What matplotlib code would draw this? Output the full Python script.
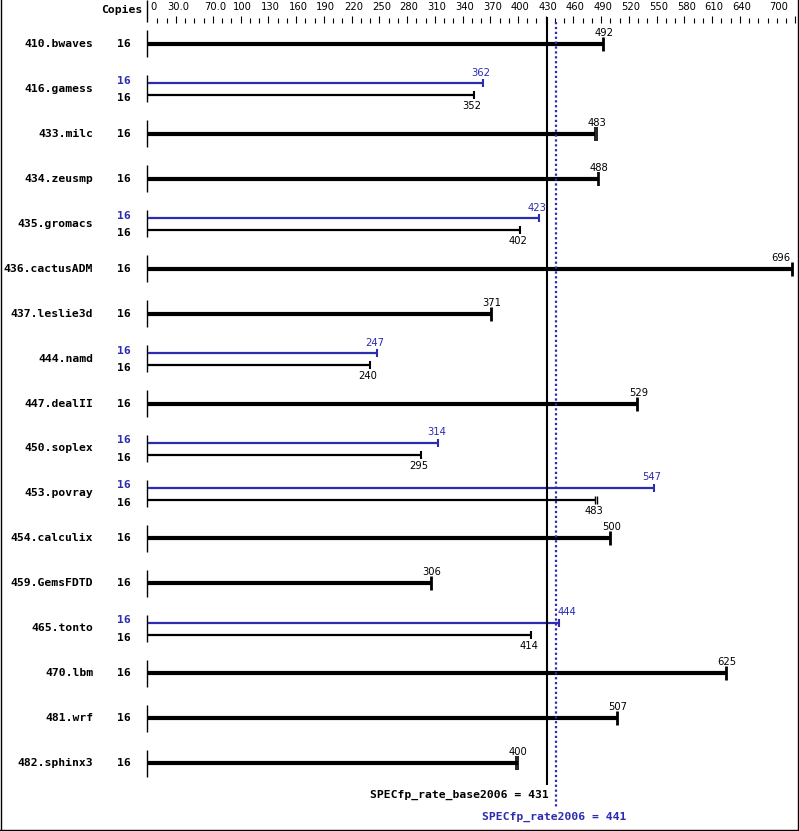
import matplotlib
matplotlib.use("Agg")
import matplotlib.pyplot as plt
from matplotlib.lines import Line2D

benchmarks = ["410.bwaves", "416.gamess", "433.milc", "434.zeusmp", "435.gromacs",
              "436.cactusADM", "437.leslie3d", "444.namd", "447.dealII", "450.soplex",
              "453.povray", "454.calculix", "459.GemsFDTD", "465.tonto", "470.lbm",
              "481.wrf", "482.sphinx3"]
copies = [16] * 17
base = [492, 352, 483, 488, 402, 696, 371, 240, 529, 295, 483, 500, 306, 414, 625, 507, 400]
peak = [None, 362, None, None, 423, None, None, 247, None, 314, 547, None, None, 444, None, None, None]
base_other = [None, None, 485, 486, None, None, None, None, None, None, 485, None, None, None, None, None, 398]

tick_labels = ["0", "30.0", "70.0"] + [str(v) for v in range(100, 641, 30)] + ["700"]
tick_vals = [0, 30, 70] + list(range(100, 641, 30)) + [700]

base_score = 431
peak_score = 441

BLUE = "#2c2cb0"
W, H = 799, 831
X0, SX = 148.2, 0.9245      # pixel of value 0, px per unit
Y0, SY = 44.0, 44.94        # pixel of first row centre, px per row

fig = plt.figure(figsize=(W / 100, H / 100), dpi=100)
ax = fig.add_axes([0, 0, 1, 1])
ax.set_xlim(-X0 / SX, (W - X0) / SX)
ax.set_ylim((H - Y0) / SY, -Y0 / SY)
ax.axis("off")

def px(d):  # vertical pixel offset -> data rows
    return d / SY

def ypix(p):  # absolute pixel y -> data rows
    return (p - Y0) / SY

def hx(d):  # horizontal pixel offset -> data units
    return d / SX

mono = dict(family="DejaVu Sans Mono", fontweight="bold", fontsize=8.2)
small = dict(family="DejaVu Sans", fontsize=7.2)
XMAX_LABEL = (790 - X0) / SX

def value_label(x, y, text, bar_end=None, **kw):
    half = hx(9)
    if x + half > XMAX_LABEL:
        ax.text(XMAX_LABEL, y, text, ha="right", va="center", **kw, **small)
    elif bar_end is not None and abs(bar_end - peak_score) < hx(6):
        ax.text(bar_end - hx(1), y, text, ha="left", va="center", **kw, **small)
    else:
        ax.text(x, y, text, ha="center", va="center", **kw, **small)

# header
ax.text(hx(-6), ypix(10), "Copies", ha="right", va="center", **mono)
ax.plot([hx(-1), hx(-1)], [ypix(0), ypix(22)], color="black", lw=1, solid_capstyle="butt")
for v in range(10, 701, 10):
    major = v in tick_vals
    ax.plot([v, v], [ypix(16 if major else 18.5), ypix(23)], color="black", lw=0.8,
            solid_capstyle="butt")
for v, lab in zip(tick_vals, tick_labels):
    if v == 0:
        ax.text(hx(2), ypix(7), lab, ha="left", va="center", **small)
    elif v == 700:
        ax.text(v - hx(7), ypix(7), lab, ha="right", va="center", **small)
    else:
        ax.text(v + hx(2), ypix(7), lab, ha="center", va="center", **small)

def end_tick(x, y, half, lw, color):
    ax.plot([x, x], [y - px(half), y + px(half)], color=color, lw=lw, solid_capstyle="butt")

for i, name in enumerate(benchmarks):
    y = i
    ax.plot([hx(-1), hx(-1)], [y - px(13.5), y + px(13.5)], color="black", lw=1,
            solid_capstyle="butt")
    ax.text(hx(-55), y, name, ha="right", va="center", **mono)
    if peak[i] is None:
        ax.text(hx(-24), y, str(copies[i]), ha="center", va="center", **mono)
        ax.plot([0, base[i]], [y, y], color="black", lw=3.0, solid_capstyle="butt")
        xs = [base[i]]
        if base_other[i] is not None:
            end_tick(base_other[i], y, 7, 1.2, "black")
            end_tick(base[i], y, 7, 1.2, "black")
            xs.append(base_other[i])
        else:
            end_tick(base[i], y, 7, 2.0, "black")
        value_label(sum(xs) / len(xs) + hx(1), y - px(11), str(base[i]))
    else:
        yp, yb = y - px(5.5), y + px(6.5)
        ax.text(hx(-24), y - px(8), str(copies[i]), ha="center", va="center",
                color=BLUE, **mono)
        ax.text(hx(-24), y + px(9.5), str(copies[i]), ha="center", va="center", **mono)
        ax.plot([0, peak[i]], [yp, yp], color=BLUE, lw=1.6, solid_capstyle="butt")
        end_tick(peak[i], yp, 4, 1.5, BLUE)
        ax.plot([0, base[i]], [yb, yb], color="black", lw=1.6, solid_capstyle="butt")
        xs = [base[i]]
        if base_other[i] is not None:
            end_tick(base_other[i], yb, 4, 1.0, "black")
            end_tick(base[i], yb, 4, 1.0, "black")
            xs.append(base_other[i])
        else:
            end_tick(base[i], yb, 4, 1.5, "black")
        value_label(peak[i] - hx(2), yp - px(10.5), str(peak[i]), bar_end=peak[i], color=BLUE)
        value_label(sum(xs) / len(xs) - hx(2), yb + px(11), str(base[i]))

# reference lines
ax.plot([base_score, base_score], [ypix(17), ypix(785)], color="black", lw=1.5,
        solid_capstyle="butt")
ax.plot([peak_score, peak_score], [ypix(22), ypix(808)], color=BLUE, lw=1.6,
        linestyle=(0, (1, 1.2)))
ax.text(base_score + hx(2), ypix(795), f"SPECfp_rate_base2006 = {base_score}",
        ha="right", va="center", **mono)
ax.text(peak_score - hx(2), ypix(817), f"SPECfp_rate2006 = {peak_score}",
        ha="center", va="center", color=BLUE, **mono)

# outer frame
for (x1, y1, x2, y2) in [(0.5, 0, 0.5, 830), (797.5, 0, 797.5, 830), (0, 829.5, 798, 829.5)]:
    fig.add_artist(Line2D([x1 / W, x2 / W], [1 - y1 / H, 1 - y2 / H], color="black", lw=1))

fig.savefig("out.png", dpi=100)
